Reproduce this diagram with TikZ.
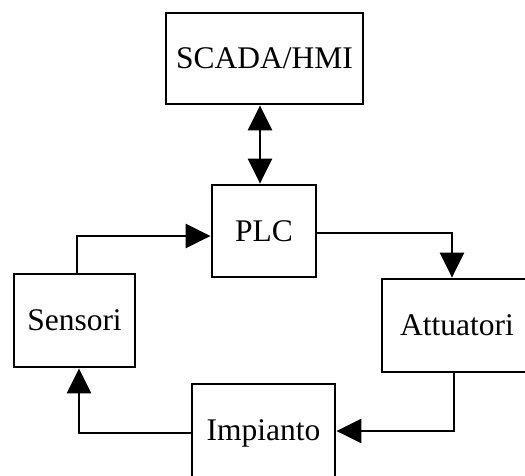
\documentclass[tikz,border=0pt]{standalone}
\usepackage{fontspec}
\setmainfont{Liberation Serif}
\usetikzlibrary{arrows.meta}
\begin{document}
\begin{tikzpicture}[x=1pt,y=-1pt,
  box/.style={draw,line width=2.8pt,rectangle,inner sep=0pt,font=\fontsize{31.5}{36}\selectfont},
  conn/.style={line width=2.8pt},
  arr/.style={conn,-{Triangle[length=25pt,width=24pt]}},
  arrboth/.style={conn,{Triangle[length=25pt,width=24pt]}-{Triangle[length=25pt,width=24pt]}}]
\useasboundingbox (0,0) rectangle (525,475);
\clip (0,0) rectangle (525,475);
\node[box,minimum width=197pt,minimum height=91pt] (scada) at (264.5,58.5) {SCADA/HMI};
\node[box,minimum width=104pt,minimum height=92pt] (plc) at (264,231) {PLC};
\node[box,minimum width=121pt,minimum height=93pt] (sens) at (74.5,320.5) {Sensori};
\node[box,minimum width=150pt,minimum height=93pt] (att) at (457,325.5) {Attuatori};
\node[box,minimum width=143pt,minimum height=98pt] (imp) at (263.5,433) {Impianto};
\draw[arrboth] ([xshift=-4.5pt]scada.south) -- ([xshift=-4.5pt]scada.south |- plc.north);
\draw[arr] ([xshift=2.5pt]sens.north) |- ([yshift=-5pt]plc.west);
\draw[arr] ([yshift=-2pt]plc.east) -| ([xshift=-5pt]att.north);
\draw[arr] ([xshift=-3pt]att.south) |- ([yshift=2pt]imp.east);
\draw[arr] (imp.west) -| ([xshift=4.5pt]sens.south);
\end{tikzpicture}
\end{document}
